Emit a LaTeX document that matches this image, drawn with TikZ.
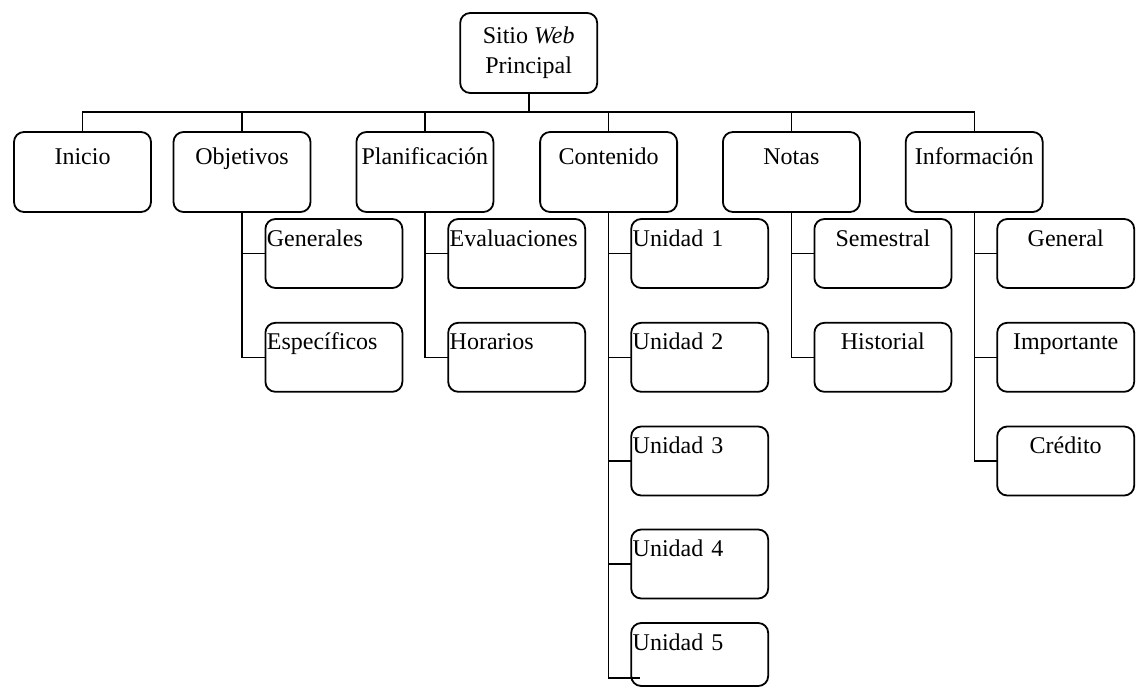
\documentclass[tikz,border=0pt]{standalone}
\usepackage{fontspec}
\setmainfont{Liberation Serif}
\begin{document}
\begin{tikzpicture}[x=1pt,y=-1pt,
  box/.style={draw, line width=1.8pt, rounded corners=10pt, inner sep=0pt, outer sep=0pt,
    font=\fontsize{24}{30}\selectfont},
  rootbox/.style={box, minimum width=137pt, minimum height=80pt, align=center},
  mainbox/.style={box, minimum width=137pt, text height=32pt, text depth=48pt},
  subbox/.style={box, minimum width=137pt, text height=27pt, text depth=42pt},
  subleft/.style={subbox, text width=134pt, inner xsep=1.5pt, align=left},
  link/.style={line width=1.2pt},
  stem/.style={line width=2pt}]
\useasboundingbox (0,0) rectangle (1143,688);

% root
\node[rootbox] (root) at (528.7,53) {Sitio \textit{Web}\\Principal};

% first level
\node[mainbox] (inicio) at (82.5,172)  {Inicio};
\node[mainbox] (obj)    at (242,172)   {Objetivos};
\node[mainbox] (plan)   at (424.9,172) {Planificación};
\node[mainbox] (cont)   at (608.6,172) {Contenido};
\node[mainbox] (notas)  at (791.4,172) {Notas};
\node[mainbox] (info)   at (974.2,172) {Información};

% second level
\node[subleft] (gen)  at (333.9,253.5) {Generales};
\node[subleft] (esp)  at (333.9,357.3) {Específicos};
\node[subleft] (eval) at (516.7,253.5) {Evaluaciones};
\node[subleft] (hor)  at (516.7,357.3) {Horarios};
\node[subleft] (u1)   at (699.7,253.5) {Unidad 1};
\node[subleft] (u2)   at (699.7,357.3) {Unidad 2};
\node[subleft] (u3)   at (699.7,461)   {Unidad 3};
\node[subleft] (u4)   at (699.7,564)   {Unidad 4};
\node[subleft, text depth=36pt] (u5) at (699.7,654.5) {Unidad 5};
\node[subbox] (sem)  at (882.9,253.5) {Semestral};
\node[subbox] (hist) at (882.9,357.3) {Historial};
\node[subbox] (genl) at (1065.7,253.5) {General};
\node[subbox] (imp)  at (1065.7,357.3) {Importante};
\node[subbox] (cred) at (1065.7,461)   {Crédito};

% root to first level
\coordinate (bus) at ([yshift=-19pt]root.south);
\draw[stem] (root.south) -- (bus);
\foreach \n in {inicio,obj,plan,cont,notas,info}
  \draw[link] (bus) -| (\n.north);

% first level to second level
\draw[link] (obj.south) |- (gen.west);
\draw[link] (obj.south) |- (esp.west);
\draw[link] (plan.south) |- (eval.west);
\draw[link] (plan.south) |- (hor.west);
\draw[link] (cont.south) |- (u1.west);
\draw[link] (cont.south) |- (u2.west);
\draw[link] (cont.south) |- (u3.west);
\draw[link] (cont.south) |- (u4.west);
\coordinate (u5end) at (640,678);
\draw[link] (cont.south) |- (u5end);
\draw[link] (notas.south) |- (sem.west);
\draw[link] (notas.south) |- (hist.west);
\draw[link] (info.south) |- (genl.west);
\draw[link] (info.south) |- (imp.west);
\draw[link] (info.south) |- (cred.west);
\end{tikzpicture}
\end{document}
